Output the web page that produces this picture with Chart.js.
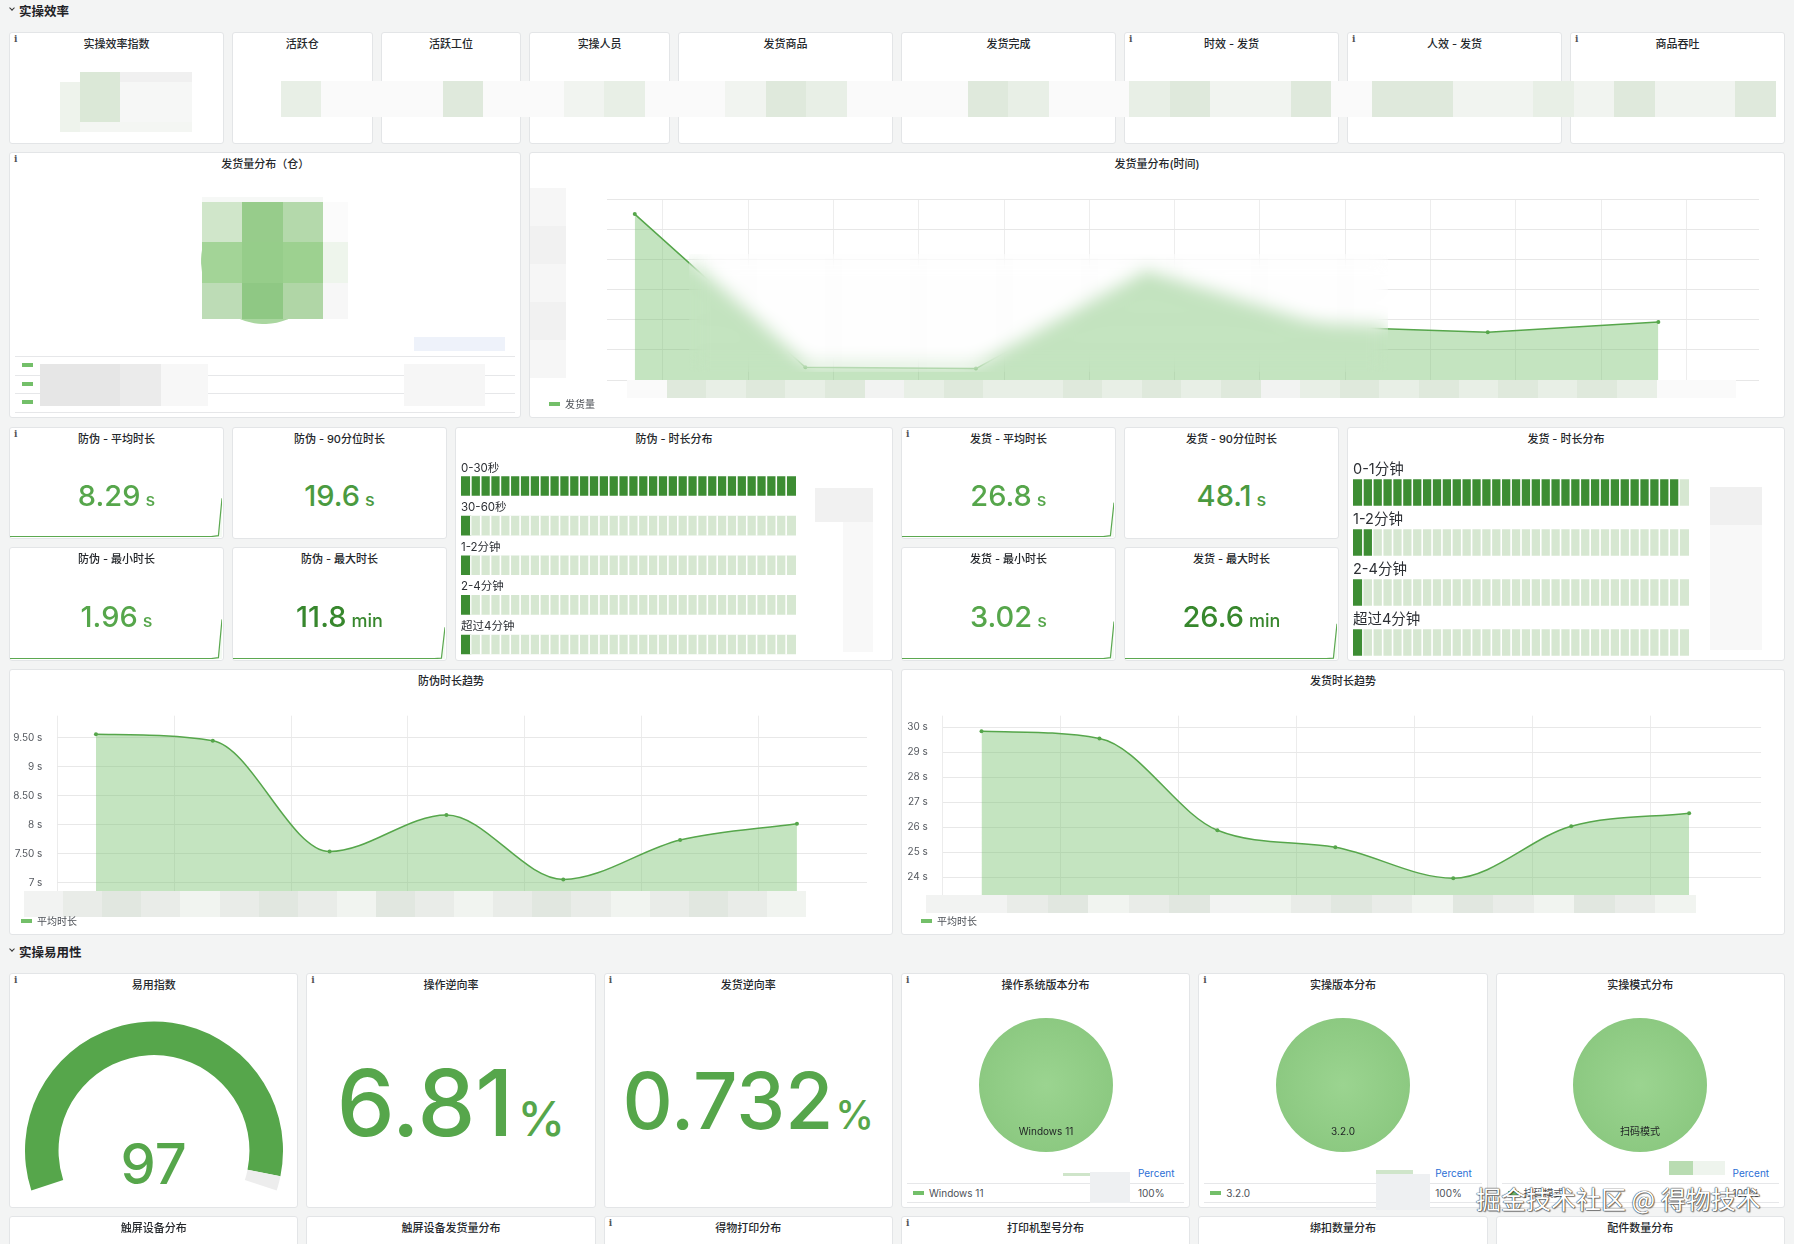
<!DOCTYPE html>
<html lang="zh">
<head>
<meta charset="utf-8">
<title>实操效率</title>
<script src="https://cdn.jsdelivr.net/npm/chart.js@4.4.1/dist/chart.umd.min.js"></script>
<style>
  html, body { margin: 0; }
  body { width: 1794px; height: 1244px; overflow: hidden; position: relative; background: #f3f4f4;
         font-family: Inter, "Noto Sans CJK SC", sans-serif; color: #2c2f34; }
  .abs { position: absolute; }
  .panel { position: absolute; background: #fff; border: 1px solid #e3e5e7; border-radius: 3px; box-sizing: border-box; }
  .ptitle { position: absolute; left: 0; right: 0; top: 3px; line-height: 17px; text-align: center; font-size: 11px;
            font-weight: 500; color: #24272b; white-space: nowrap; }
  .info { position: absolute; left: 4px; top: 1px; font: bold 9px "DejaVu Serif", serif; color: #555; }
  .rowtitle { position: absolute; left: 19px; font-size: 12.5px; font-weight: 600; color: #1f2226; line-height: 16px; }
  .chev { position: absolute; left: 10px; width: 3px; height: 3px; border-right: 1.3px solid #333; border-bottom: 1.3px solid #333; transform: rotate(45deg); }
  .stat { position: absolute; text-align: center; white-space: nowrap; font-weight: 500; }
  .legend { position: absolute; font-size: 10px; color: #4d5157; line-height: 12px; white-space: nowrap; }
  .legend i { display: inline-block; width: 11px; height: 4px; background: #73bf69; vertical-align: middle; margin: -2px 5px 0 0; }
  .blur { position: absolute; backdrop-filter: blur(9px); -webkit-backdrop-filter: blur(9px); }
  .rule { position: absolute; height: 1px; background: #e6e7e9; }
  canvas { position: absolute; }
  .watermark { position: absolute; font-family: "Noto Sans CJK SC", sans-serif; font-size: 25px; color: #fff; white-space: nowrap;
               text-shadow: 0 0 1px #222, 0 0 1px #222, 1px 1px 1px rgba(0,0,0,.45); }
</style>
</head>
<body>
<script>
// ---- 数据 ----
const shipHours = [0, 2, 4, 6, 8, 10, 12];
const shipVolume = [550, 42, 38, 350, 177, 158, 192];
const shipVolumeMax = 600;

const trendSlots = [0, 1, 2, 3, 4, 5, 6];
const fangweiTrend = [9.56, 9.45, 7.54, 8.17, 7.06, 7.74, 8.02];
const fahuoTrend = [29.84, 29.55, 25.88, 25.2, 23.96, 26.04, 26.56];
const fangweiTicks = [7, 7.5, 8, 8.5, 9, 9.5];
const fahuoTicks = [24, 25, 26, 27, 28, 29, 30];

const fangweiBuckets = ['0-30秒', '30-60秒', '1-2分钟', '2-4分钟', '超过4分钟'];
const fangweiShare = [97.6, 1.1, 0.6, 0.4, 0.3];
const fahuoBuckets = ['0-1分钟', '1-2分钟', '2-4分钟', '超过4分钟'];
const fahuoShare = [94.2, 4.3, 1.0, 0.5];

const warehouseShare = [44, 34, 22];

const fangweiStats = [8.29, 19.6, 1.96, 11.8];
const fahuoStats = [26.8, 48.1, 3.02, 26.6];
const statUnits = ['s', 's', 's', 'min'];

const sparkTimes = [0, 56, 58, 59];
const sparkFangwei = [[0.01, 0.01, 0.03, 0.88], null, [0.01, 0.01, 0.03, 0.9], [0.01, 0.01, 0.02, 0.72]];
const sparkFahuo = [[0.01, 0.01, 0.03, 0.78], null, [0.01, 0.01, 0.03, 0.85], [0.01, 0.01, 0.02, 0.8]];

const usabilityIndex = 97;
const operateReverseRate = 6.81;
const shipReverseRate = 0.732;

const osNames = ['Windows 11'];
const osPercent = [100];
const versionNames = ['3.2.0'];
const versionPercent = [100];
const modeNames = ['扫码模式'];
const modePercent = [100];

// ---- 布局工具 ----
const X = c => 9 + c * 74.33;
const W = n => n * 74.33 - 8;
const px = v => v + 'px';

Chart.defaults.font.family = 'Inter, "Noto Sans CJK SC", sans-serif';
Chart.defaults.animation = false;

function el(tag, cls, style, text) {
  const e = document.createElement(tag);
  if (cls) e.className = cls;
  if (style) Object.assign(e.style, style);
  if (text != null) e.textContent = text;
  document.body.appendChild(e);
  return e;
}

function panel(c, n, y, h, title, info) {
  const p = { x: X(c), y, w: W(n), h };
  const d = el('div', 'panel', { left: px(p.x), top: px(y), width: px(p.w), height: px(h) });
  const t = document.createElement('div');
  t.className = 'ptitle';
  t.textContent = title;
  d.appendChild(t);
  if (info) {
    const i = document.createElement('div');
    i.className = 'info';
    i.textContent = 'i';
    d.appendChild(i);
  }
  return p;
}

function canvasAt(x, y, w, h) {
  x = Math.round(x); y = Math.round(y); w = Math.round(w); h = Math.round(h);
  const cv = el('canvas', null, { left: px(x), top: px(y), width: px(w), height: px(h) });
  cv.width = w;
  cv.height = h;
  return cv.getContext('2d');
}

function rect(x, y, w, h, color) {
  return el('div', 'abs', { left: px(x), top: px(y), width: px(w), height: px(h), background: color });
}

const shade = { a: '#fafafa', b: '#f1f4f0', c: '#e8efe6', d: '#dfe9dc', g: '#e9ece8', h: '#f2f3f2', k: '#e1e7e0' };
function mosaicRow(x, y, cw, ch, codes) {
  [...codes].forEach((k, i) => rect(x + i * cw, y, cw + 0.5, ch, shade[k]));
}

function statText(p, baseline, value, unit, color, fs, ufs, gap) {
  const d = el('div', 'stat', { left: px(p.x), width: px(p.w), top: px(baseline - 0.863 * fs),
    lineHeight: px(fs), fontSize: px(fs), color });
  d.innerHTML = '<span>' + value + '</span>' + (unit ? '<span style="font-size:' + ufs +
    'px;line-height:1;margin-left:' + gap + 'px">' + unit + '</span>' : '');
}

function legend(x, y, text) {
  el('div', 'legend', { left: px(x), top: px(y) }).innerHTML = '<i></i>' + text;
}

const quiet = { legend: { display: false }, tooltip: { enabled: false } };

// ---- 行标题 ----
el('div', 'chev', { top: '6px' });
el('div', 'rowtitle', { top: '4px' }, '实操效率');
el('div', 'chev', { top: '947px' });
el('div', 'rowtitle', { top: '945px' }, '实操易用性');

// ---- 第一行: 统计 ----
const rowA = [[0, 3, '实操效率指数', 1], [3, 2, '活跃仓'], [5, 2, '活跃工位'], [7, 2, '实操人员'], [9, 3, '发货商品'],
  [12, 3, '发货完成'], [15, 3, '时效 - 发货', 1], [18, 3, '人效 - 发货', 1], [21, 3, '商品吞吐', 1]];
rowA.forEach(r => panel(r[0], r[1], 32, 112, r[2], r[3]));

// ---- 发货量分布（仓） ----
const pWh = panel(0, 7, 152, 266, '发货量分布（仓）', 1);
new Chart(canvasAt(201, 198, 126, 126), {
  type: 'pie',
  data: { labels: ['A', 'B', 'C'], datasets: [{ data: warehouseShare, backgroundColor: ['#8fca84', '#a9d69f', '#c6e3bf'], borderWidth: 0 }] },
  options: { responsive: false, events: [], plugins: quiet }
});
[356, 374.5, 393, 412].forEach(y => el('div', 'rule', { left: '15px', top: px(y), width: '500px' }));
[363, 382, 400].forEach(y => rect(22, y, 11, 4, '#73bf69'));

// ---- 发货量分布(时间) ----
const pTime = panel(7, 17, 152, 266, '发货量分布(时间)');
const hourGrid = [0.33, 1.33, 2.33, 3.33, 4.33, 5.33, 6.33, 7.33, 8.33, 9.33, 10.33, 11.33, 12.33];
new Chart(canvasAt(530, 152, 1255, 266), {
  type: 'line',
  data: { datasets: [{ label: '发货量', data: shipHours.map((h, i) => ({ x: h, y: shipVolume[i] })),
    borderColor: '#56a64b', borderWidth: 1.5, backgroundColor: 'rgba(115,191,105,0.42)', fill: 'origin',
    pointRadius: 2, pointBackgroundColor: '#56a64b', pointBorderWidth: 0, tension: 0 }] },
  options: {
    responsive: false, events: [], plugins: quiet,
    layout: { padding: { left: 76.6, right: 26, top: 47, bottom: 38 } },
    scales: {
      x: { type: 'linear', min: -0.33, max: 13.18,
           afterBuildTicks: s => { s.ticks = hourGrid.map(v => ({ value: v })); },
           ticks: { display: false }, grid: { color: '#ededed', drawTicks: false }, border: { display: false } },
      y: { min: 0, max: shipVolumeMax, ticks: { display: false, stepSize: 100 },
           grid: { color: '#e7e7e7', drawTicks: false }, border: { display: false } }
    }
  }
});
legend(549, 398, '发货量');

// ---- 统计: 防伪 / 发货 ----
const statColors = ['#56a64b', '#4a9a40', '#56a64b', '#37872d'];
function sparkline(p, values) {
  new Chart(canvasAt(p.x + 1, p.y + p.h - 47, p.w - 2, 46), {
    type: 'line',
    data: { datasets: [{ data: sparkTimes.map((t, i) => ({ x: t, y: values[i] })), borderColor: '#5ba850', borderWidth: 1.2,
      backgroundColor: 'rgba(115,191,105,0.08)', fill: 'origin', pointRadius: 0, tension: 0 }] },
    options: { responsive: false, events: [], plugins: quiet,
      layout: { padding: { top: 1, bottom: 1, left: 0, right: 1 } },
      scales: { x: { type: 'linear', display: false, min: 0, max: 59 }, y: { display: false, min: 0, max: 1 } } }
  });
}
function statGroup(c0, prefix, values, sparks, infoFirst) {
  const cells = [[c0, 427, 112, '平均时长'], [c0 + 3, 427, 112, '90分位时长'], [c0, 547, 114, '最小时长'], [c0 + 3, 547, 114, '最大时长']];
  cells.forEach((cl, i) => {
    const p = panel(cl[0], 3, cl[1], cl[2], prefix + ' - ' + cl[3], i === 0 && infoFirst);
    if (sparks[i]) sparkline(p, sparks[i]);
    statText(p, cl[1] + (i < 2 ? 79 : 80.5), values[i], statUnits[i], statColors[i], 29, 18, 5);
  });
}
statGroup(0, '防伪', fangweiStats, sparkFangwei, 1);
statGroup(12, '发货', fahuoStats, sparkFahuo, 1);

// ---- 时长分布 (LCD 条形) ----
const lcdPlugin = {
  id: 'lcd',
  afterDatasetsDraw(chart, args, o) {
    const { ctx, chartArea: a } = chart;
    const bars = chart.getDatasetMeta(0).data;
    const step = (a.right - a.left) / o.cells;
    ctx.save();
    ctx.fillStyle = '#ffffff';
    bars.forEach(b => {
      const top = b.y - b.height / 2;
      for (let i = 1; i < o.cells; i++) ctx.fillRect(a.left + i * step - o.gap / 2, top - 0.5, o.gap, b.height + 1);
    });
    ctx.fillStyle = '#2c2f34';
    ctx.font = o.fontSize + 'px Inter, "Noto Sans CJK SC", sans-serif';
    chart.data.labels.forEach((l, i) => ctx.fillText(l, a.left, bars[i].y - bars[i].height / 2 - o.labelGap));
    ctx.restore();
  }
};
const CELLS = 34;
const lit = v => Math.ceil(v / 100 * CELLS) * 100 / CELLS;
function lcdChart(x, y, w, h, pad, labels, share, thick, fontSize, labelGap) {
  new Chart(canvasAt(x, y, w, h), {
    type: 'bar',
    data: { labels, datasets: [
      { data: share.map(lit), backgroundColor: '#3d8d33', barThickness: thick, borderWidth: 0 },
      { data: share.map(v => 100 - lit(v)), backgroundColor: '#d6e7d1', barThickness: thick, borderWidth: 0 }
    ] },
    options: { indexAxis: 'y', responsive: false, events: [],
      layout: { padding: pad },
      plugins: Object.assign({ lcd: { cells: CELLS, gap: 1.6, fontSize, labelGap } }, quiet),
      scales: { x: { stacked: true, min: 0, max: 100, display: false }, y: { stacked: true, display: false } } },
    plugins: [lcdPlugin]
  });
}
panel(6, 6, 427, 234, '防伪 - 时长分布');
lcdChart(455, 427, 437, 240, { left: 6, right: 96, top: 39.2, bottom: 2.7 }, fangweiBuckets, fangweiShare, 19, 11.5, 5);
rect(815, 488, 58, 34, '#f1f1f1'); rect(843, 522, 30, 130, '#f8f8f8');
panel(18, 6, 427, 234, '发货 - 时长分布');
lcdChart(1348, 427, 437, 242, { left: 5, right: 96, top: 40.5, bottom: 1.5 }, fahuoBuckets, fahuoShare, 26, 14.5, 6);
rect(1710, 487, 52, 38, '#f0f0f0'); rect(1710, 525, 52, 125, '#f8f8f8');

// ---- 趋势 ----
function trendChart(p, area, values, ticks, yMin, yMax, xMin, xMax, tickPad) {
  new Chart(canvasAt(p.x, p.y, p.w, p.h), {
    type: 'line',
    data: { datasets: [{ label: '平均时长', data: trendSlots.map((t, i) => ({ x: t, y: values[i] })),
      borderColor: '#56a64b', borderWidth: 1.5, backgroundColor: 'rgba(115,191,105,0.42)', fill: 'origin',
      pointRadius: 2, pointBackgroundColor: '#56a64b', pointBorderWidth: 0, cubicInterpolationMode: 'monotone' }] },
    options: { responsive: false, events: [], plugins: quiet,
      layout: { padding: { left: 0, right: p.x + p.w - area.right, top: area.top - p.y, bottom: p.y + p.h - area.bottom } },
      scales: {
        x: { type: 'linear', min: xMin, max: xMax,
             afterBuildTicks: s => { s.ticks = [0, 1, 2, 3, 4, 5, 6].map(k => ({ value: k + xMin })); },
             ticks: { display: false }, grid: { color: '#ececec', drawTicks: false }, border: { display: false } },
        y: { min: yMin, max: yMax,
             afterBuildTicks: s => { s.ticks = ticks.map(v => ({ value: v })); },
             afterFit: s => { s.width = area.left - p.x; },
             ticks: { padding: tickPad, color: '#55595f', font: { size: 10 },
                      callback: v => (Number.isInteger(v) ? v : v.toFixed(2)) + ' s' },
             grid: { color: '#e8e8e8', drawTicks: false }, border: { display: false } }
      } }
  });
}
const pFw = panel(0, 12, 669, 266, '防伪时长趋势');
trendChart(pFw, { left: 57.4, right: 867, top: 715.7, bottom: 891 }, fangweiTrend, fangweiTicks, 6.86, 9.88, -0.33, 6.6, 15);
mosaicRow(24, 891, 39.1, 26, 'hgkgbgkgbkgbgkgbgkgb');
legend(21, 915, '平均时长');
const pFh = panel(12, 12, 669, 266, '发货时长趋势');
trendChart(pFh, { left: 942.8, right: 1761, top: 715.7, bottom: 895 }, fahuoTrend, fahuoTicks, 23.29, 30.46, -0.328, 6.61, 15);
mosaicRow(926, 895, 40.5, 18, 'hhgkbgkhbgkgbkgbkgb');
legend(921, 915, '平均时长');

// ---- 实操易用性 ----
const pGauge = panel(0, 4, 973, 235, '易用指数', 1);
new Chart(canvasAt(25, 1021, 258, 170), {
  type: 'doughnut',
  data: { datasets: [{ data: [usabilityIndex, 100 - usabilityIndex], backgroundColor: ['#56a64b', '#ededed'], borderWidth: 0 }] },
  options: { responsive: false, events: [], rotation: -108, circumference: 216, cutout: '74%', plugins: quiet }
});
statText(pGauge, 1184, usabilityIndex, '', '#56a64b', 56, 0, 0);
const pOp = panel(4, 4, 973, 235, '操作逆向率', 1);
statText(pOp, 1136, operateReverseRate, '%', '#56a64b', 92, 48, 4);
const pShip = panel(8, 4, 973, 235, '发货逆向率', 1);
statText(pShip, 1129, shipReverseRate, '%', '#56a64b', 78, 39, 2);

const sliceLabel = {
  id: 'sliceLabel',
  afterDatasetsDraw(chart) {
    const arc = chart.getDatasetMeta(0).data[0];
    const { ctx } = chart;
    ctx.save();
    ctx.font = '10px Inter, "Noto Sans CJK SC", sans-serif';
    ctx.fillStyle = '#1f2124';
    ctx.textAlign = 'center';
    ctx.textBaseline = 'middle';
    ctx.fillText(chart.data.labels[0], arc.x, arc.y + arc.outerRadius * 0.7);
    ctx.restore();
  }
};
function pieGrad(c) {
  const a = c.chart.chartArea;
  if (!a) return '#93cf88';
  const cx = (a.left + a.right) / 2, cy = (a.top + a.bottom) / 2, r = (a.right - a.left) / 2;
  const g = c.chart.ctx.createRadialGradient(cx, cy, 0, cx, cy, r);
  g.addColorStop(0, '#9bd490');
  g.addColorStop(1, '#8cc981');
  return g;
}
function pieWithLegend(c, title, info, names, percent) {
  const p = panel(c, 4, 973, 235, title, info);
  const cx = p.x + p.w / 2;
  new Chart(canvasAt(cx - 67, 1018, 134, 134), {
    type: 'pie',
    data: { labels: names, datasets: [{ data: percent, backgroundColor: pieGrad, borderWidth: 0 }] },
    options: { responsive: false, events: [], plugins: quiet },
    plugins: [sliceLabel]
  });
  el('div', 'rule', { left: px(p.x + 6), top: '1183px', width: px(p.w - 12) });
  el('div', 'rule', { left: px(p.x + 6), top: '1202px', width: px(p.w - 12) });
  el('div', 'legend', { left: px(p.x + 237), top: '1167px', color: '#2b6fd6' }, 'Percent');
  names.forEach((n, i) => {
    legend(p.x + 12, 1187 + i * 19, n);
    el('div', 'legend', { left: px(p.x + 237), top: px(1187 + i * 19) }, percent[i] + '%');
  });
  return p;
}
const pOs = pieWithLegend(12, '操作系统版本分布', 1, osNames, osPercent);
rect(pOs.x + 162, 1173, 28, 3, '#cfe5ca'); rect(pOs.x + 189, 1172, 40, 31, '#eef0f2');
const pVer = pieWithLegend(16, '实操版本分布', 1, versionNames, versionPercent);
rect(pVer.x + 178, 1170, 37, 4, '#cfe5ca'); rect(pVer.x + 178, 1174, 54, 36, '#eef0f2');
const pMode = pieWithLegend(20, '实操模式分布', 0, modeNames, modePercent);
rect(1669, 1161, 24, 14, '#b9dcb2'); rect(1693, 1161, 32, 14, '#eef4ed');

// ---- 最后一行 ----
[[0, '触屏设备分布'], [4, '触屏设备发货量分布'], [8, '得物打印分布', 1], [12, '打印机型号分布', 1], [16, '绑扣数量分布'], [20, '配件数量分布']]
  .forEach(r => panel(r[0], 4, 1216, 200, r[1], r[2]));

// ---- 打码区域 ----
mosaicRow(281, 81, 40.4, 36, 'caaadaabcaabdcaaadcaacdbbdaddbbcbdbbd');
rect(60, 82, 20, 50, '#eef3ec'); rect(80, 72, 40, 50, '#dbe8d7'); rect(120, 72, 72, 10, '#f0f0f0');
rect(80, 122, 112, 10, '#f4f6f3'); rect(120, 82, 72, 40, '#f6f7f6');
// 饼图打码: 3x3 色块
const pieCells = [['#d0e6ca', '#97cc8b', '#b4d9ab', '#fbfbfb'], ['#a3d497', '#96cd8a', '#9dd190', '#eef5ec'], ['#bddcb6', '#8fc884', '#b0d6a6', '#f7f7f7']];
pieCells.forEach((row, j) => row.forEach((col, i) =>
  rect(201.8 + i * 40.4, 201.7 + j * 40.6, i === 3 ? 25.3 : 40.9, j === 2 ? 35.7 : 41.1, col)));
rect(201.8, 197, 121, 5, '#f6f8f6');
rect(40, 364, 80, 42, '#e6e6e6'); rect(120, 364, 41, 42, '#ebebeb'); rect(161, 364, 47, 42, '#f7f7f7');
rect(404, 364, 81, 42, '#f6f6f6'); rect(414, 337, 91, 14, '#eef2fa');
el('div', 'blur', { left: '689px', top: '254px', width: '699px', height: '118px' });
mosaicRow(627, 380, 39.6, 18, 'adcdcdhcdccdcdcdhcdcdcdcdcaa');
[188, 226, 264, 302, 340].forEach((y, i) => rect(530, y, 36, 38.4, i % 2 ? '#f1f1f1' : '#f6f6f6'));

el('div', 'watermark', { left: '1476px', top: '1180px' }, '掘金技术社区 @ 得物技术');
</script>
</body>
</html>
